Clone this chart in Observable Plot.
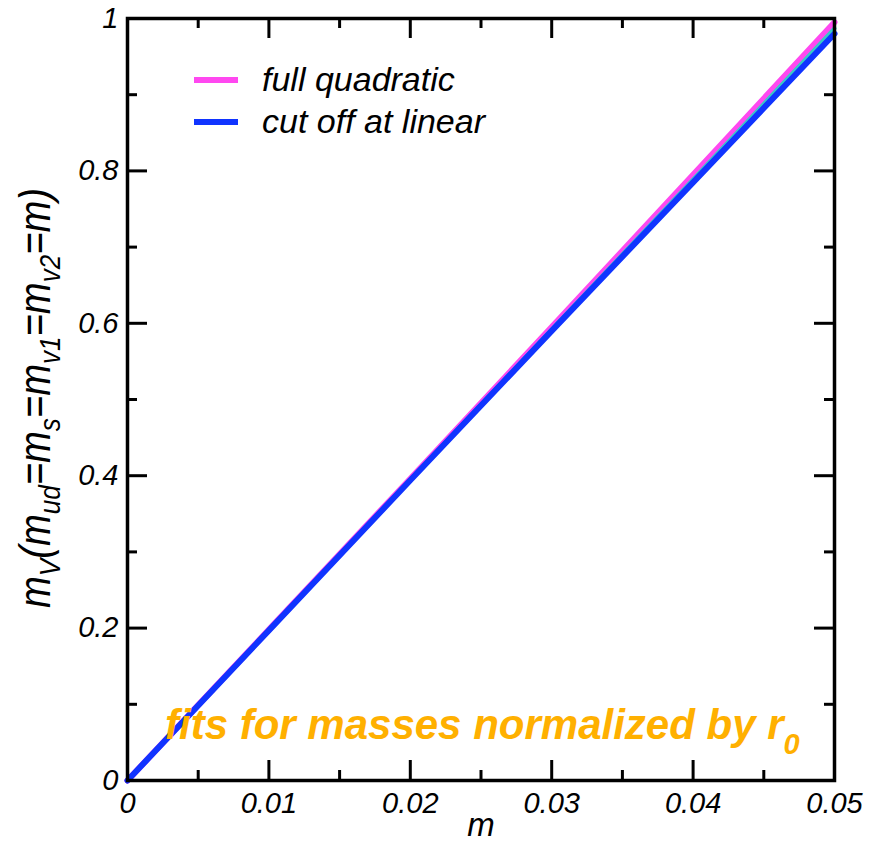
<!DOCTYPE html>
<html>
<head>
<meta charset="utf-8">
<script src="https://cdn.jsdelivr.net/npm/d3@7"></script>
<script src="https://cdn.jsdelivr.net/npm/@observablehq/plot@0.6"></script>
<style>
  html, body { margin: 0; padding: 0; background: #fff; }
  #chart svg { display: block; }
</style>
</head>
<body>
<div id="chart"></div>
<script>
// ---- data ----
const mValues = [0, 0.01, 0.02, 0.03, 0.04, 0.05];
const fullQuadratic = [0, 0.198, 0.396, 0.595, 0.795, 0.995];
const cutOffLinear = [0, 0.197, 0.394, 0.590, 0.785, 0.980];
const thirdFit = [0, 0.197, 0.395, 0.592, 0.789, 0.987];

const xMajor = [0, 0.01, 0.02, 0.03, 0.04, 0.05];
const xMinor = [0.005, 0.015, 0.025, 0.035, 0.045];
const xTickLabels = ["0", "0.01", "0.02", "0.03", "0.04", "0.05"];
const yMajor = [0, 0.2, 0.4, 0.6, 0.8, 1];
const yMinor = [0.1, 0.3, 0.5, 0.7, 0.9];
const yTickLabels = ["0", "0.2", "0.4", "0.6", "0.8", "1"];

const seriesNames = ["full quadratic", "cut off at linear"];
const colors = {pink: "#ff48f0", blue: "#1034ff", cyan: "#38c8c8", orange: "#ffb000"};

const toRows = (vals) => mValues.map((m, i) => ({m, v: vals[i]}));

const W = 882, H = 846, mL = 127, mR = 48, mT = 18, mB = 66;
const pw = W - mL - mR, ph = H - mT - mB;
const FONT = "'Liberation Sans', Arial, Helvetica, sans-serif";

const plot = Plot.plot({
  width: W, height: H,
  marginLeft: mL, marginRight: mR, marginTop: mT, marginBottom: mB,
  style: {fontFamily: FONT, fontStyle: "italic", fontSize: "29px", color: "#000", background: "#fff"},
  x: {domain: [0, 0.05]},
  y: {domain: [0, 1]},
  marks: [
    Plot.line(toRows(fullQuadratic), {x: "m", y: "v", stroke: colors.pink, strokeWidth: 6}),
    Plot.line(toRows(thirdFit), {x: "m", y: "v", stroke: colors.cyan, strokeWidth: 4}),
    Plot.line(toRows(cutOffLinear), {x: "m", y: "v", stroke: colors.blue, strokeWidth: 6}),
    // inward ticks, bottom / top
    Plot.ruleX(xMajor, {x: d => d, insetTop: ph - 20, stroke: "#000", strokeWidth: 3}),
    Plot.ruleX(xMinor, {x: d => d, insetTop: ph - 10, stroke: "#000", strokeWidth: 3}),
    Plot.ruleX(xMajor, {x: d => d, insetBottom: ph - 20, stroke: "#000", strokeWidth: 3}),
    Plot.ruleX(xMinor, {x: d => d, insetBottom: ph - 10, stroke: "#000", strokeWidth: 3}),
    // inward ticks, left / right
    Plot.ruleY(yMajor, {y: d => d, insetRight: pw - 20, stroke: "#000", strokeWidth: 3}),
    Plot.ruleY(yMinor, {y: d => d, insetRight: pw - 10, stroke: "#000", strokeWidth: 3}),
    Plot.ruleY(yMajor, {y: d => d, insetLeft: pw - 20, stroke: "#000", strokeWidth: 3}),
    Plot.ruleY(yMinor, {y: d => d, insetLeft: pw - 10, stroke: "#000", strokeWidth: 3}),
    Plot.axisX({ticks: xMajor, tickSize: 0, tickPadding: 12, label: null,
      tickFormat: d => xTickLabels[xMajor.indexOf(d)], fontSize: 29}),
    Plot.axisY({ticks: yMajor, tickSize: 0, tickPadding: 9, label: null,
      tickFormat: d => yTickLabels[yMajor.indexOf(d)], fontSize: 29}),
    Plot.frame({stroke: "#000", strokeWidth: 3.5})
  ]
});

document.getElementById("chart").appendChild(plot);

const svg = d3.select(plot);

// tick label size
svg.selectAll('g[aria-label="x-axis tick label"], g[aria-label="y-axis tick label"]')
  .attr("font-size", 29).style("font-size", "29px").style("font-style", "italic")
  .selectAll("text").attr("font-size", 29).style("font-size", "29px");

// legend
const legend = svg.append("g").attr("font-family", FONT).attr("font-style", "italic")
  .attr("font-size", 34).attr("text-anchor", "start");
[[colors.pink, 80, 91], [colors.blue, 122, 133]].forEach(([c, ly, ty], i) => {
  legend.append("line").attr("x1", 194).attr("x2", 238).attr("y1", ly).attr("y2", ly)
    .attr("stroke", c).attr("stroke-width", 6);
  legend.append("text").attr("x", 262).attr("y", ty).attr("fill", "#000").text(seriesNames[i]);
});

// annotation
const ann = svg.append("text")
  .attr("x", 165).attr("y", 739).attr("text-anchor", "start")
  .attr("font-family", FONT).attr("font-style", "italic").attr("font-weight", "bold")
  .attr("font-size", 42).attr("fill", colors.orange);
ann.append("tspan").text("fits for masses normalized by r");
ann.append("tspan").attr("font-size", 29).attr("dy", 15).text("0");

// x title
svg.append("text").attr("x", 481).attr("y", 836).attr("text-anchor", "middle")
  .attr("font-family", FONT).attr("font-style", "italic").attr("font-size", 33).attr("fill", "#000").text("m");

// y title
const yt = svg.append("text")
  .attr("transform", "translate(50,608) rotate(-90)").attr("text-anchor", "start")
  .attr("font-family", FONT).attr("font-style", "italic").attr("font-size", 44).attr("fill", "#000")
  .attr("textLength", 420).attr("lengthAdjust", "spacingAndGlyphs");
const parts = [["m", false], ["V", true], ["(m", false], ["ud", true], ["=m", false], ["s", true],
               ["=m", false], ["v1", true], ["=m", false], ["v2", true], ["=m)", false]];
let sub = false;
parts.forEach(([t, isSub]) => {
  const ts = yt.append("tspan").text(t);
  if (isSub) { ts.attr("font-size", 30).attr("dy", sub ? 0 : 10); sub = true; }
  else { if (sub) ts.attr("dy", -10); sub = false; }
});
</script>
</body>
</html>
